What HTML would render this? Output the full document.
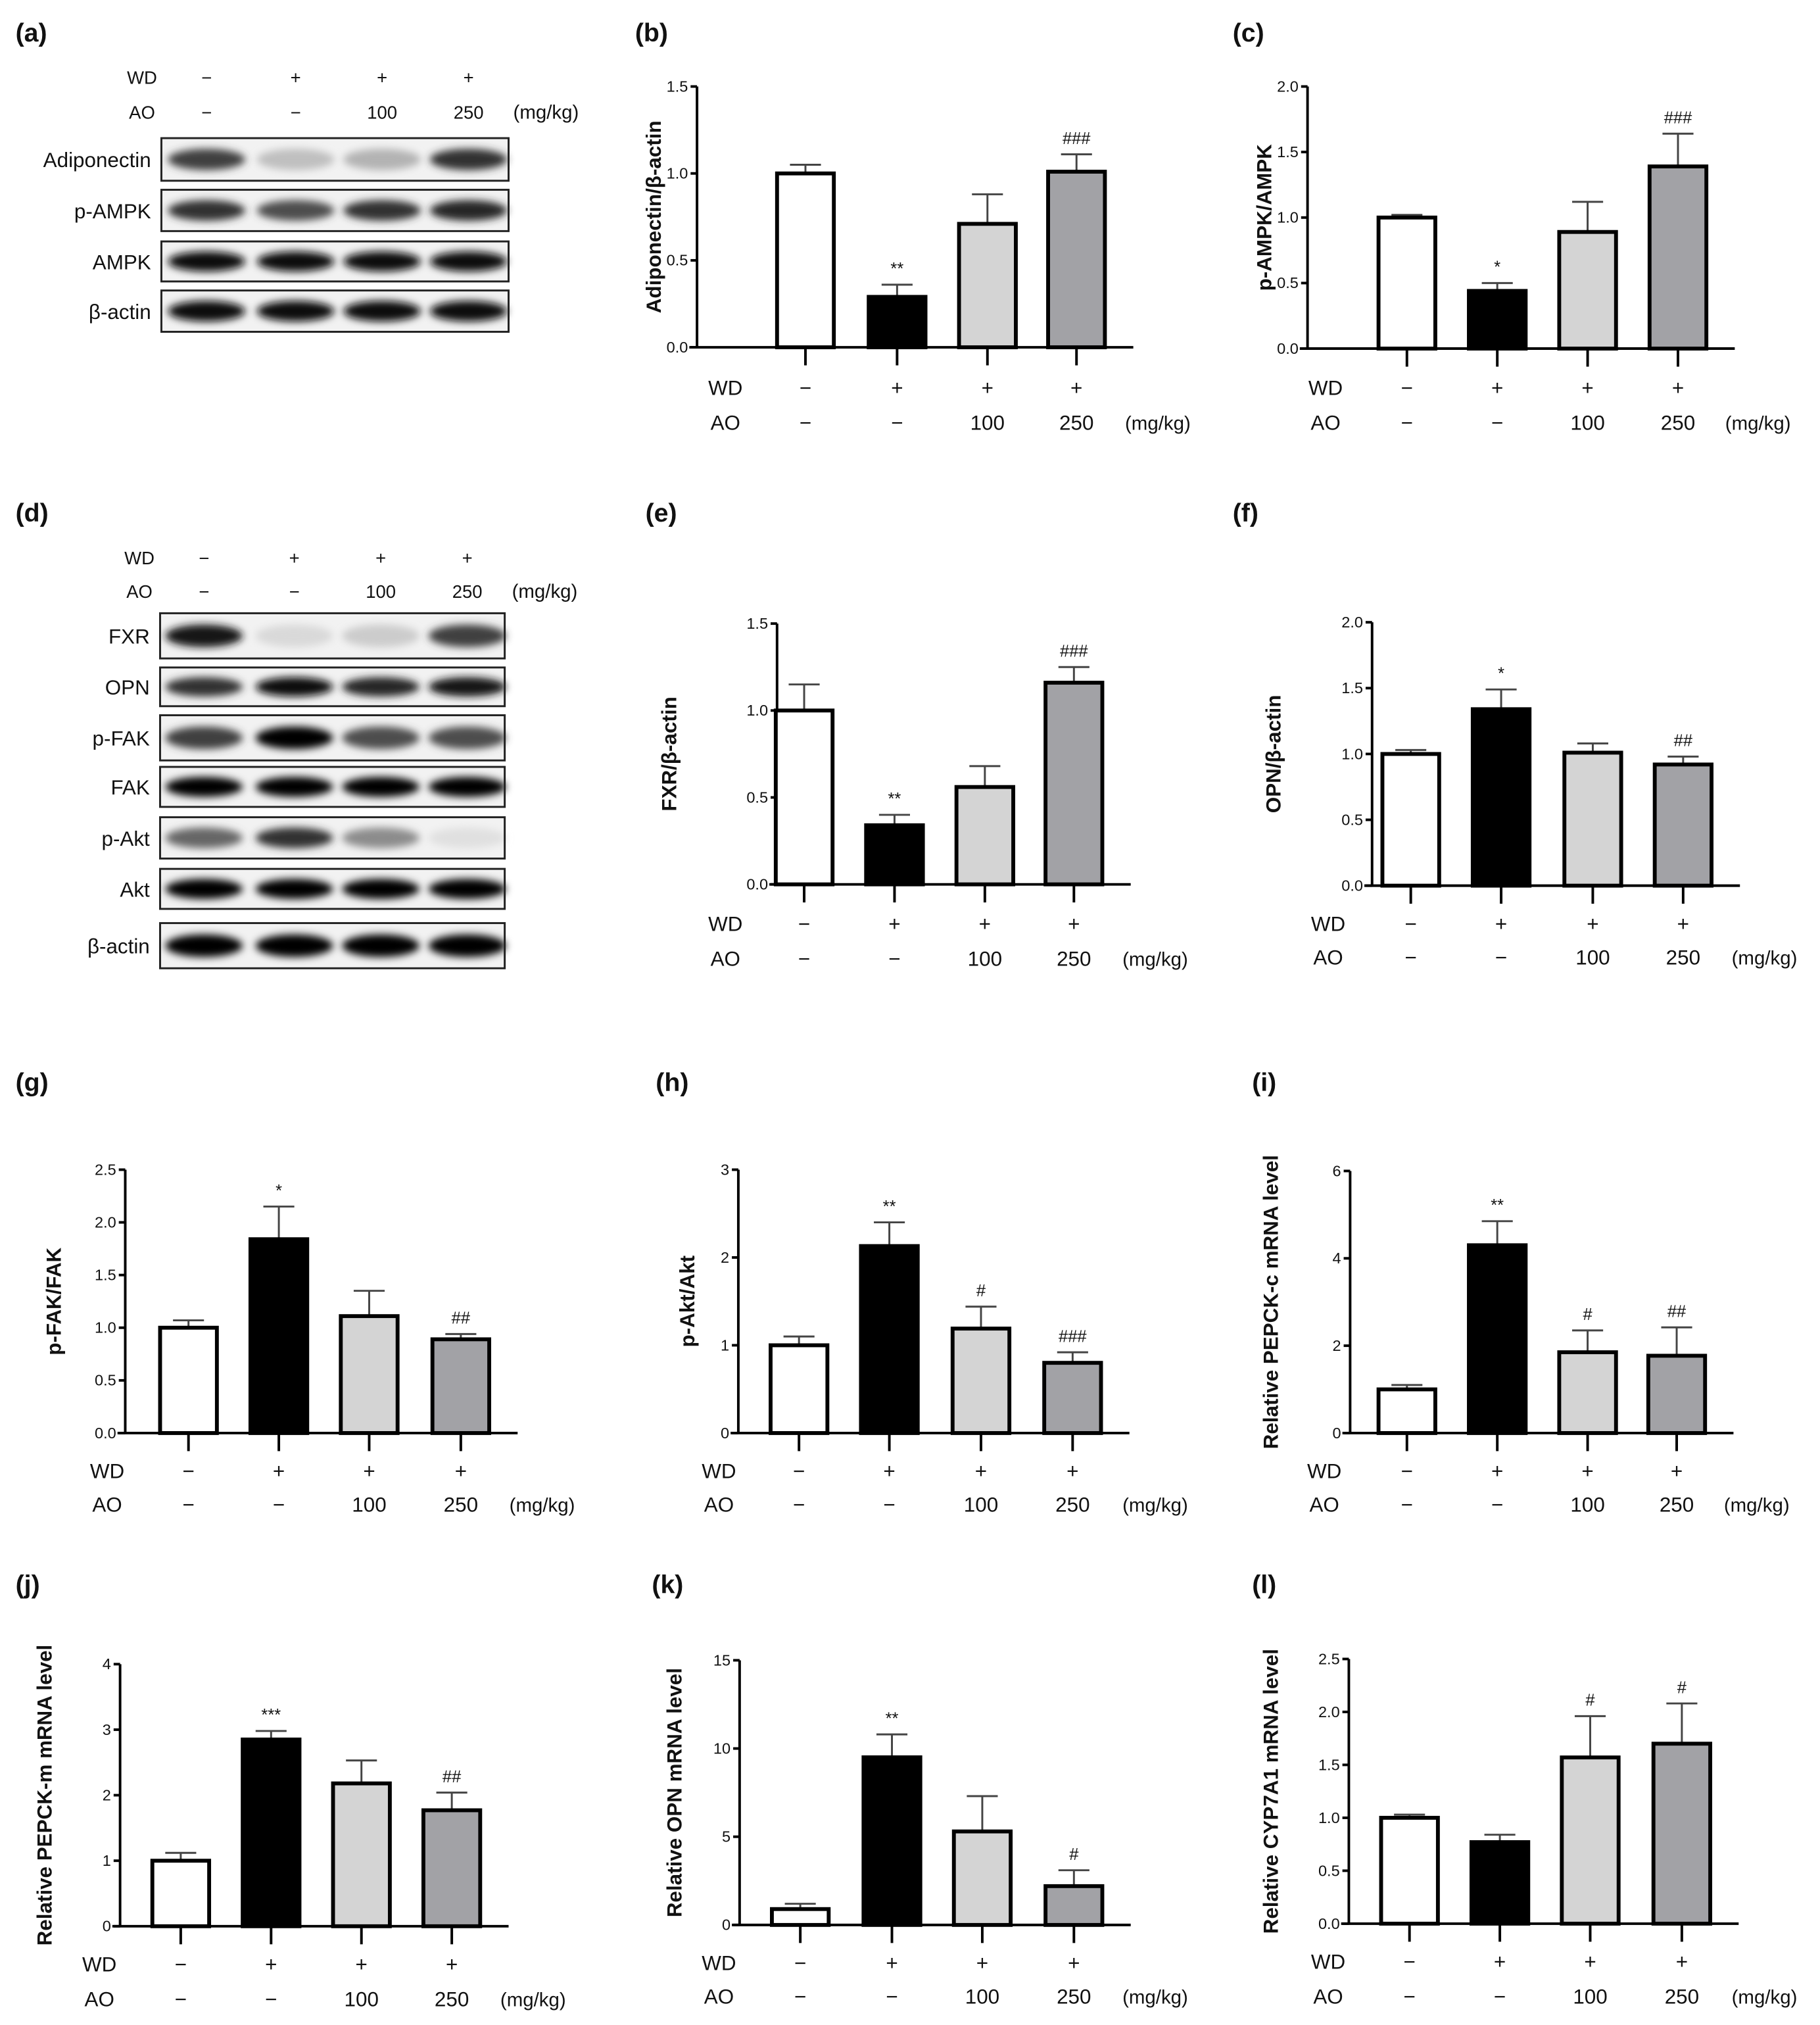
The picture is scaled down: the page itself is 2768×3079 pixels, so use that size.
<!DOCTYPE html>
<html><head><meta charset="utf-8">
<style>
html,body{margin:0;padding:0;background:#fff;}
svg{display:block;}
text{font-family:"Liberation Sans",Arial,sans-serif;fill:#111;}
</style></head>
<body>
<svg id="fig" width="2768" height="3079" viewBox="0 0 1410 1568.5" xmlns="http://www.w3.org/2000/svg">
<defs>
<filter id="blur" x="-30%" y="-80%" width="160%" height="260%"><feGaussianBlur stdDeviation="3"/></filter>
</defs>
</svg>
<script>
// ---- chart data ----
const groupsWD = ["−","+","+","+"];
const groupsAO = ["−","−","100","250"];
const barFills = ["#ffffff","#000000","#d4d4d4","#a2a2a6"];

const valsB = [1.0,0.29,0.71,1.01];  const errB = [0.05,0.07,0.17,0.10]; const sigB = ["","**","","###"];
const valsC = [1.0,0.44,0.89,1.39];  const errC = [0.02,0.06,0.23,0.25]; const sigC = ["","*","","###"];
const valsE = [1.0,0.34,0.56,1.16];  const errE = [0.15,0.06,0.12,0.09]; const sigE = ["","**","","###"];
const valsF = [1.0,1.34,1.01,0.92];  const errF = [0.03,0.15,0.07,0.06]; const sigF = ["","*","","##"];
const valsG = [1.0,1.84,1.11,0.89];  const errG = [0.07,0.31,0.24,0.05]; const sigG = ["","*","","##"];
const valsH = [1.0,2.13,1.19,0.80];  const errH = [0.10,0.27,0.25,0.12]; const sigH = ["","**","#","###"];
const valsI = [1.0,4.30,1.85,1.77];  const errI = [0.10,0.55,0.50,0.65]; const sigI = ["","**","#","##"];
const valsJ = [1.0,2.85,2.18,1.77];  const errJ = [0.12,0.13,0.35,0.27]; const sigJ = ["","***","","##"];
const valsK = [0.9,9.5,5.3,2.2];     const errK = [0.3,1.3,2.0,0.9];     const sigK = ["","**","","#"];
const valsL = [1.0,0.77,1.57,1.70];  const errL = [0.03,0.07,0.39,0.38]; const sigL = ["","","#","#"];

const ticks15 = ["0.0","0.5","1.0","1.5"];
const ticks20 = ["0.0","0.5","1.0","1.5","2.0"];
const ticks25 = ["0.0","0.5","1.0","1.5","2.0","2.5"];
const ticks3 = ["0","1","2","3"];
const ticks6 = ["0","2","4","6"];
const ticks4 = ["0","1","2","3","4"];
const ticks15k = ["0","5","10","15"];

const NS="http://www.w3.org/2000/svg";
const svg=document.getElementById('fig');
function el(tag,attrs,parent){const e=document.createElementNS(NS,tag);for(const k in attrs)e.setAttribute(k,attrs[k]);(parent||svg).appendChild(e);return e;}
function txt(s,x,y,size,parent,extra){const t=el('text',Object.assign({x:x,y:y,'font-size':size},extra||{}),parent);t.textContent=s;return t;}

const panels=[
 {id:'b',ax:540,base:269,top:67,max:1.5,ticks:ticks15,cx:[624,695,765,834],v:valsB,e:errB,s:sigB,yl:'Adiponectin/β-actin',ylx:512,rows:[300,327],wdx:562,mgx:897},
 {id:'c',ax:1013,base:270,top:67,max:2.0,ticks:ticks20,cx:[1090,1160,1230,1300],v:valsC,e:errC,s:sigC,yl:'p-AMPK/AMPK',ylx:985,rows:[300,327],wdx:1027,mgx:1362},
 {id:'e',ax:602,base:685,top:483,max:1.5,ticks:ticks15,cx:[623,693,763,832],v:valsE,e:errE,s:sigE,yl:'FXR/β-actin',ylx:524,rows:[715,742],wdx:562,mgx:895},
 {id:'f',ax:1063,base:686,top:482,max:2.0,ticks:ticks20,cx:[1093,1163,1234,1304],v:valsF,e:errF,s:sigF,yl:'OPN/β-actin',ylx:992,rows:[715,741],wdx:1029,mgx:1367},
 {id:'g',ax:97,base:1110,top:906,max:2.5,ticks:ticks25,cx:[146,216,286,357],v:valsG,e:errG,s:sigG,yl:'p-FAK/FAK',ylx:47,rows:[1139,1165],wdx:83,mgx:420},
 {id:'h',ax:572,base:1110,top:906,max:3,ticks:ticks3,cx:[619,689,760,831],v:valsH,e:errH,s:sigH,yl:'p-Akt/Akt',ylx:538,rows:[1139,1165],wdx:557,mgx:895},
 {id:'i',ax:1046,base:1110,top:907,max:6,ticks:ticks6,cx:[1090,1160,1230,1299],v:valsI,e:errI,s:sigI,yl:'Relative PEPCK-c mRNA level',ylx:990,rows:[1139,1165],wdx:1026,mgx:1361},
 {id:'j',ax:93,base:1492,top:1289,max:4,ticks:ticks4,cx:[140,210,280,350],v:valsJ,e:errJ,s:sigJ,yl:'Relative PEPCK-m mRNA level',ylx:40,rows:[1521,1548],wdx:77,mgx:413},
 {id:'k',ax:573,base:1491,top:1286,max:15,ticks:ticks15k,cx:[620,691,761,832],v:valsK,e:errK,s:sigK,yl:'Relative OPN mRNA level',ylx:528,rows:[1520,1546],wdx:557,mgx:895},
 {id:'l',ax:1045,base:1490,top:1285,max:2.5,ticks:ticks25,cx:[1092,1162,1232,1303],v:valsL,e:errL,s:sigL,yl:'Relative CYP7A1 mRNA level',ylx:990,rows:[1519,1546],wdx:1029,mgx:1367}
];

panels.forEach(p=>{
  const g=el('g',{});
  
  
  const ys=v=>p.base-(v/p.max)*(p.base-p.top);
  const ya=el('line',{x1:p.ax,y1:p.top,x2:p.ax,y2:p.base,stroke:'#000','stroke-width':2},g);
  
  
  p.ticks.forEach((t,i)=>{
    const v=i*p.max/(p.ticks.length-1);
    const y=ys(v);
    el('line',{x1:p.ax-5,y1:y,x2:p.ax,y2:y,stroke:'#000','stroke-width':2},g);
    const tl=txt(t,p.ax-7,y+4,12,g,{'text-anchor':'end'});
    
    
  });
  const xEnd=p.cx[3]+44;
  const xa=el('line',{x1:p.ax-6,y1:p.base,x2:xEnd,y2:p.base,stroke:'#000','stroke-width':2},g);
  
  
  const yl=txt(p.yl,p.ylx,(p.top+p.base)/2,16,g,{'text-anchor':'middle','font-weight':'bold',transform:'rotate(-90 '+p.ylx+' '+((p.top+p.base)/2)+')'});
  
  
  const bw=44;
  p.cx.forEach((cx,i)=>{
    el('line',{x1:cx,y1:p.base,x2:cx,y2:p.base+14,stroke:'#000','stroke-width':2},g);
    const yv=ys(p.v[i]), ye=ys(p.v[i]+p.e[i]);
    const eb=el('line',{x1:cx,y1:yv,x2:cx,y2:ye,stroke:'#444','stroke-width':1.5},g);
    
    
    el('line',{x1:cx-12,y1:ye,x2:cx+12,y2:ye,stroke:'#444','stroke-width':1.5},g);
    const r=el('rect',{x:cx-bw/2,y:yv,width:bw,height:p.base-yv,fill:barFills[i],stroke:'#000','stroke-width':3},g);
    
    
    if(p.s[i]){
      const st=txt(p.s[i],cx,ye-8,13,g,{'text-anchor':'middle'});
      
      
    }
    const w=txt(groupsWD[i],cx,p.rows[0]+6,16,g,{'text-anchor':'middle'});
    
    
    const a=txt(groupsAO[i],cx,p.rows[1]+6,16,g,{'text-anchor':'middle'});
    
    
  });
  const w=txt('WD',p.wdx,p.rows[0]+6,16,g,{'text-anchor':'middle'});
  
  
  const a=txt('AO',p.wdx,p.rows[1]+6,16,g,{'text-anchor':'middle'});
  
  
  const m=txt('(mg/kg)',p.mgx,p.rows[1]+6,15,g,{'text-anchor':'middle'});
  
  
});

const letters=[['(a)',12,32],['(b)',492,32],['(c)',955,32],['(d)',12,404],['(e)',500,404],['(f)',955,404],['(g)',12,845],['(h)',508,845],['(i)',970,845],['(j)',12,1234],['(k)',505,1234],['(l)',970,1234]];
letters.forEach(l=>{
  const t=txt(l[0],l[1],l[2],20,null,{'font-weight':'bold'});
  
  
});

const blotA={x1:125,x2:394,lanes:[160,229,296,363],hdr:[60,87],hdrx:110,mgx:423,
 rows:[['Adiponectin',107,140,[0.75,0.25,0.3,0.8]],['p-AMPK',147,179,[0.8,0.7,0.8,0.85]],['AMPK',187,218,[0.95,0.95,0.95,0.95]],['β-actin',225,257,[0.95,0.95,0.95,0.95]]]};
const blotD={x1:124,x2:391,lanes:[158,228,295,362],hdr:[432,458],hdrx:108,mgx:422,
 rows:[['FXR',475,510,[0.9,0.15,0.2,0.75]],['OPN',517,547,[0.8,0.95,0.85,0.9]],['p-FAK',554,589,[0.75,1,0.7,0.7]],['FAK',594,625,[1,1,1,1]],['p-Akt',633,665,[0.6,0.8,0.45,0.12]],['Akt',673,704,[1,1,1,1]],['β-actin',715,750,[1,1,1,1]]]};
[[blotA,'a'],[blotD,'d']].forEach(([b,id])=>{
  const g=el('g',{});
  
  
  b.lanes.forEach((lx,i)=>{
    txt(groupsWD[i],lx,b.hdr[0]+5,14,g,{'text-anchor':'middle'});
    txt(groupsAO[i],lx,b.hdr[1]+5,14,g,{'text-anchor':'middle'});
  });
  txt('WD',b.hdrx,b.hdr[0]+5,14,g,{'text-anchor':'middle'});
  txt('AO',b.hdrx,b.hdr[1]+5,14,g,{'text-anchor':'middle'});
  txt('(mg/kg)',b.mgx,b.hdr[1]+5,15,g,{'text-anchor':'middle'});
  b.rows.forEach(r=>{
    const [name,y1,y2,ints]=r;
    const box=el('g',{},g);
    
    
    el('rect',{x:b.x1,y:y1,width:b.x2-b.x1,height:y2-y1,fill:'#f2f2f2'},box);
    ints.forEach((v,i)=>{
      const c=Math.round(255*(1-v));
      el('ellipse',{cx:b.lanes[i],cy:(y1+y2)/2,rx:30,ry:(y2-y1)*0.25,fill:'rgb('+c+','+c+','+c+')',filter:'url(#blur)'},box);
    });
    el('rect',{x:b.x1,y:y1,width:b.x2-b.x1,height:y2-y1,fill:'none',stroke:'#222','stroke-width':1.5},box);
    txt(name,b.x1-8,(y1+y2)/2+6,16,box,{'text-anchor':'end'});
  });
});
</script>
</body></html>
